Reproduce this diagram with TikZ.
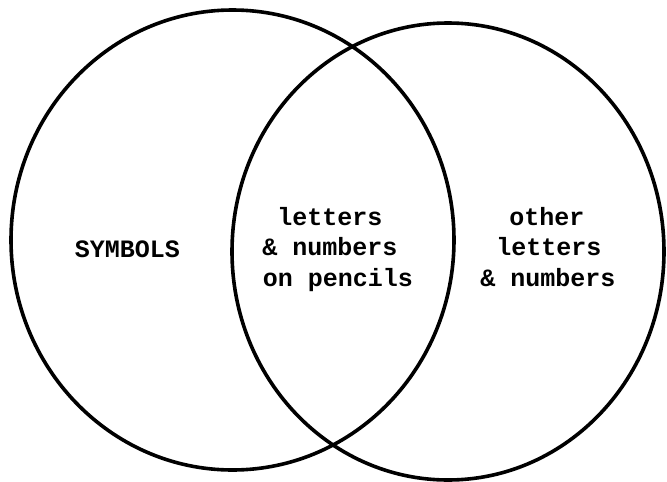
\documentclass[tikz,border=0pt]{standalone}
\usepackage{fontspec}
\setmonofont{Liberation Mono}
\begin{document}
\begin{tikzpicture}[x=1pt,y=-1pt,
  venn/.style={draw=black,line width=3.6pt},
  lbl/.style={inner sep=0pt,anchor=base,font=\ttfamily\bfseries\fontsize{25}{31}\selectfont}]
\useasboundingbox (0,0) rectangle (667,482);
\draw[venn] (232.5,240) ellipse [x radius=221.5pt, y radius=230pt];
\draw[venn] (448,251.5) ellipse [x radius=216pt, y radius=228.5pt];
\node[lbl] (sym) at (127.5,257) {SYMBOLS};
\node[lbl] (m1) at (330,225) {letters};
\node[lbl] (m2) at (330,255) {\&\ numbers};
\node[lbl] (m3) at (338,286) {on pencils};
\node[lbl] (r1) at (547,225) {other};
\node[lbl] (r2) at (549,255) {letters};
\node[lbl] (r3) at (548,286) {\&\ numbers};
\end{tikzpicture}
\end{document}
